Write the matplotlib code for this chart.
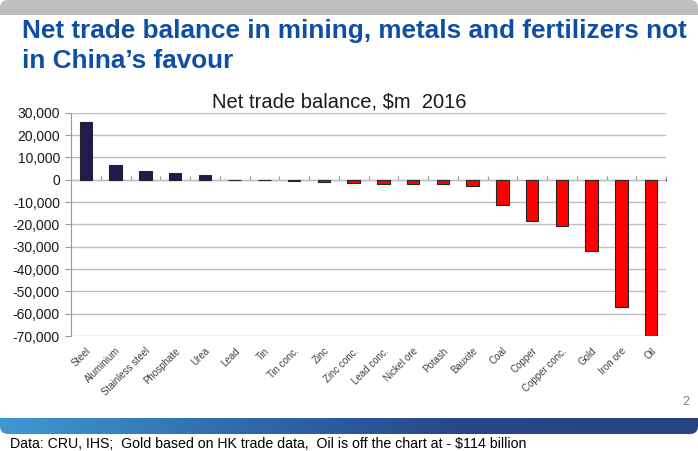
"""Net trade balance in mining, metals and fertilizers, China 2016."""

import matplotlib

matplotlib.use("Agg")

import matplotlib.pyplot as plt
import numpy as np
from matplotlib.colors import LinearSegmentedColormap
from matplotlib.patches import FancyBboxPatch
from matplotlib.ticker import FuncFormatter, NullFormatter

plt.rcParams["font.family"] = ["Liberation Sans", "DejaVu Sans"]

categories = [
    "Steel", "Aluminium", "Stainless steel", "Phosphate", "Urea", "Lead",
    "Tin", "Tin conc.", "Zinc", "Zinc conc.", "Lead conc.", "Nickel ore",
    "Potash", "Bauxite", "Coal", "Copper", "Copper conc.", "Gold",
    "Iron ore", "Oil",
]
# $m, 2016 (Oil runs off the chart at -114,000)
balance = [
    26000, 6500, 3900, 3000, 2000, -300,
    -300, -700, -1000, -1500, -2000, -2000,
    -2000, -2900, -11300, -18400, -20800, -31800,
    -57000, -114000,
]
y_ticks = list(range(-70000, 30001, 10000))

W, H = 698, 451
fig = plt.figure(figsize=(W / 100, H / 100), dpi=100)

# grey header strip with rounded top corners
hax = fig.add_axes([0, 1 - 15 / H, 1, 15 / H])
hax.set_axis_off()
hax.add_patch(FancyBboxPatch((0, -1), 1, 2,
                             boxstyle="round,pad=0,rounding_size=0.0115",
                             mutation_aspect=(8 / 15) / 0.0115,
                             transform=hax.transAxes, fc="#BFBFBF", ec="none"))

# blue gradient strip with rounded bottom corners
gax = fig.add_axes([0, 1 - 434 / H, 1, 16 / H])
gax.set_axis_off()
cmap = LinearSegmentedColormap.from_list("band", ["#3F98D1", "#2F6BAD", "#26478A", "#25437F"])
img = gax.imshow(np.linspace(0, 1, 256)[None, :], cmap=cmap, aspect="auto",
                 extent=[0, 1, 0, 1], transform=gax.transAxes)
band = FancyBboxPatch((0, 0), 1, 2, boxstyle="round,pad=0,rounding_size=0.0115",
                      mutation_aspect=(8 / 16) / 0.0115,
                      transform=gax.transAxes, fc="none", ec="none")
gax.add_patch(band)
img.set_clip_path(band)
gax.set_xlim(0, 1)
gax.set_ylim(0, 1)

# chart
ax = fig.add_axes([71 / W, 1 - 336 / H, 595 / W, 223.3 / H])
x = np.arange(len(categories))
colors = ["#1F1A4F" if v >= 0 else "#FF0000" for v in balance]
ax.bar(x, balance, width=0.42, color=colors, edgecolor="#262626", lw=0.8, zorder=3)

ax.set_xlim(-0.5, len(categories) - 0.5)
ax.set_ylim(-70000, 30000)
ax.set_yticks(y_ticks)
ax.yaxis.set_major_formatter(FuncFormatter(lambda v, _: f"{int(v):,}"))
ax.tick_params(axis="y", labelsize=10, labelcolor="#1A1A1A", color="#9A9A9A",
               length=4, pad=4)
ax.yaxis.grid(True, color="#BFBFBF", lw=1)
ax.set_axisbelow(True)
for side in ("top", "right", "bottom"):
    ax.spines[side].set_visible(False)
ax.spines["left"].set_color("#9A9A9A")

ax.set_xticks(x)
ax.set_xticklabels(categories, rotation=45, ha="right", rotation_mode="anchor",
                   fontsize=7, color="#404040")
ax.tick_params(axis="x", length=0, pad=7)

# category axis crossing at zero with boundary tick marks
zax = ax.secondary_xaxis(0.7)
zax.set_xticks(np.arange(-0.5, len(categories), 1.0))
zax.xaxis.set_major_formatter(NullFormatter())
zax.tick_params(axis="x", direction="out", length=3, color="#9A9A9A")
zax.spines["bottom"].set_color("#9A9A9A")

fig.text(22 / W, 1 - 38 / H, "Net trade balance in mining, metals and fertilizers not",
         fontsize=18.8, fontweight="bold", color="#0F4FA3", va="baseline")
fig.text(22 / W, 1 - 68 / H, "in China\u2019s favour",
         fontsize=18.8, fontweight="bold", color="#0F4FA3", va="baseline")
fig.text(212 / W, 1 - 107 / H, "Net trade balance, $m  2016",
         fontsize=14.5, color="#1A1A1A", va="baseline")
fig.text(689 / W, 1 - 405 / H, "2", fontsize=9, color="#7F7F7F", ha="right", va="baseline")
fig.text(10 / W, 1 - 448 / H,
         "Data: CRU, IHS;  Gold based on HK trade data,  Oil is off the chart at - $114 billion",
         fontsize=10.2, color="#000000", va="baseline")

fig.savefig("out.png", dpi=100)
plt.close(fig)
